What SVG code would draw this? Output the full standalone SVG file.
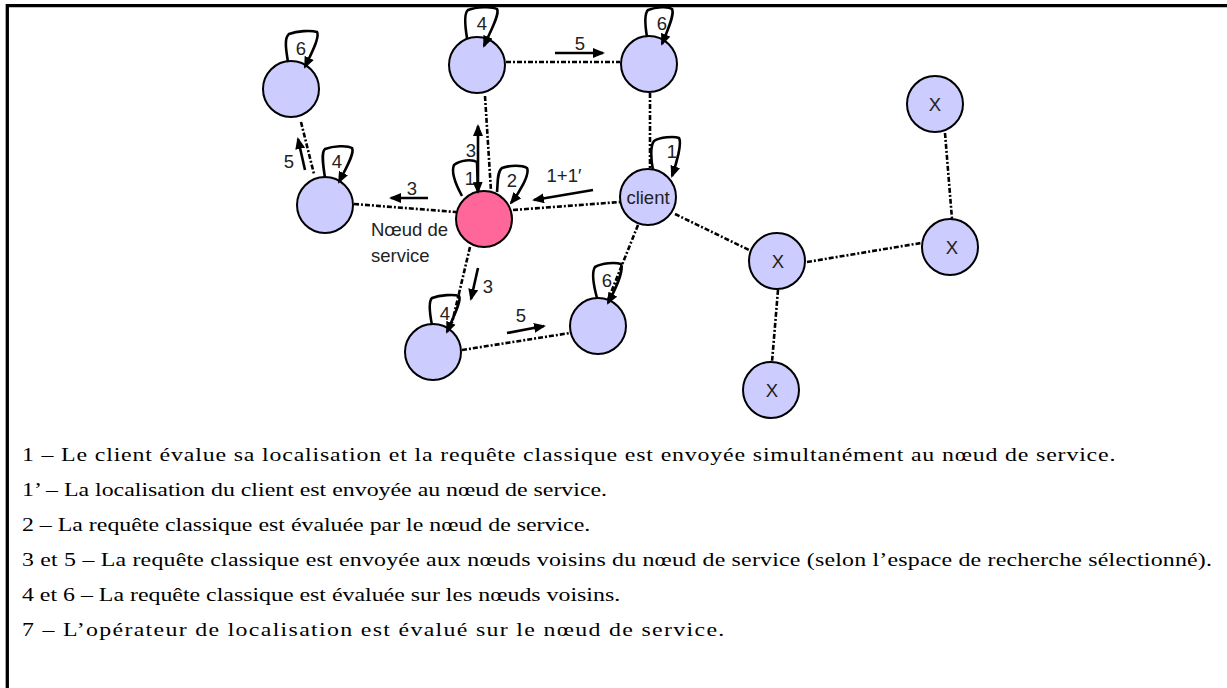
<svg xmlns="http://www.w3.org/2000/svg" width="1227" height="688" viewBox="0 0 1227 688">
<defs>
<marker id="ah" markerUnits="userSpaceOnUse" markerWidth="12" markerHeight="10" refX="10" refY="5" orient="auto" viewBox="0 0 12 10">
<path d="M0,0 L12,5 L0,10 z" fill="#000"/>
</marker>
</defs>
<style>
.frame{fill:none;stroke:#000;stroke-width:3.3}
.node{fill:#CCCCFF;stroke:#000;stroke-width:2}
.svc{fill:#FF6699;stroke:#000;stroke-width:2}
.conn{fill:none;stroke:#000;stroke-width:2.6;stroke-dasharray:5 2 2 2}
.loop{fill:none;stroke:#000;stroke-width:2.6;marker-end:url(#ah)}
.arr{fill:none;stroke:#000;stroke-width:2.6;marker-end:url(#ah)}
.lbl{font-family:"Liberation Sans",Arial,sans-serif;font-size:18.5px;fill:#222;text-anchor:middle}
.note{font-family:"Liberation Sans",Arial,sans-serif;font-size:18.5px;fill:#222}
.leg{font-family:"Liberation Serif","Times New Roman",serif;font-size:18.8px;fill:#000}
</style>
<path class="frame" d="M7.3,688 V5.7 H1227"/>
<g id="connectors">
<line class="conn" x1="301" y1="122" x2="314" y2="174"/>
<line class="conn" x1="354" y1="204" x2="456" y2="212"/>
<line class="conn" x1="485" y1="96" x2="491" y2="191"/>
<line class="conn" x1="506" y1="62" x2="620" y2="62"/>
<line class="conn" x1="650" y1="93" x2="650" y2="169"/>
<line class="conn" x1="513" y1="210" x2="620" y2="202"/>
<line class="conn" x1="638" y1="225" x2="608" y2="300"/>
<line class="conn" x1="470" y1="247" x2="452" y2="323"/>
<line class="conn" x1="462" y1="350" x2="570" y2="333"/>
<line class="conn" x1="675" y1="214" x2="749" y2="250"/>
<line class="conn" x1="807" y1="262" x2="921" y2="243"/>
<line class="conn" x1="945" y1="133" x2="952" y2="219"/>
<line class="conn" x1="778" y1="290" x2="772" y2="362"/>
<line class="arr" x1="555" y1="53" x2="603" y2="53"/>
<line class="arr" x1="593" y1="190" x2="534" y2="200"/>
<line class="arr" x1="428" y1="198" x2="391" y2="198"/>
<line class="arr" x1="478" y1="192" x2="478" y2="126"/>
<line class="arr" x1="478" y1="268" x2="471" y2="299"/>
<line class="arr" x1="507" y1="333" x2="544" y2="326"/>
<line class="arr" x1="305" y1="170" x2="298" y2="139"/>
<text class="lbl" x="580" y="50">5</text>
<text class="lbl" x="564" y="182">1+1′</text>
<text class="lbl" x="412" y="195">3</text>
<text class="lbl" x="471" y="157">3</text>
<text class="lbl" x="488" y="293">3</text>
<text class="lbl" x="521" y="322">5</text>
<text class="lbl" x="289" y="168">5</text>
</g>
<g id="n6a">
<circle class="node" cx="291" cy="89" r="28"/>
<path class="loop" d="M288,62 C286,50 284,38 289,34 C297,31 311,30 317,32 C320,37 312,52 305,67"/>
<text class="lbl" x="301" y="55">6</text>
</g>
<g id="n4a">
<circle class="node" cx="325" cy="205" r="28"/>
<path class="loop" d="M325,178 C323,165 321,152 325,149 C333,146 347,145 352,148 C355,153 346,168 339,182"/>
<text class="lbl" x="337" y="168">4</text>
</g>
<g id="n4b">
<circle class="node" cx="477" cy="65" r="28"/>
<path class="loop" d="M467,38 C465,26 464,13 468,10 C476,7 492,6 497,9 C500,14 491,30 484,46"/>
<text class="lbl" x="482" y="30">4</text>
</g>
<g id="n6b">
<circle class="node" cx="649" cy="64" r="28"/>
<path class="loop" d="M647,37 C645,25 644,14 648,10 C656,7 668,6 672,9 C675,14 668,29 662,44"/>
<text class="lbl" x="662" y="30">6</text>
</g>
<g id="service">
<circle class="svc" cx="484" cy="219" r="28"/>
<path class="loop" d="M462,196 C456,185 451,172 454,165 C460,160 472,159 477,162 L478,192"/>
<path class="loop" d="M497,192 C498,182 497,172 502,168 C510,165 522,165 527,168 C530,174 520,192 511,203"/>
<text class="lbl" x="470" y="185">1</text>
<text class="lbl" x="512" y="187">2</text>
<text class="note" x="371" y="236">Nœud de</text>
<text class="note" x="371" y="262">service</text>
</g>
<g id="client">
<circle class="node" cx="648" cy="197" r="28"/>
<path class="loop" d="M653,170 C651,160 650,146 654,141 C660,137 674,136 679,138 C682,143 677,162 672,176"/>
<text class="lbl" x="672" y="158">1</text>
<text class="lbl" x="648" y="204">client</text>
</g>
<g id="n4c">
<circle class="node" cx="433" cy="352" r="28"/>
<path class="loop" d="M432,325 C430,315 428,302 432,298 C440,295 454,294 459,296 C462,300 453,318 447,332"/>
<text class="lbl" x="445" y="320">4</text>
</g>
<g id="n6c">
<circle class="node" cx="598" cy="326" r="28"/>
<path class="loop" d="M597,298 C594,287 591,273 595,267 C602,263 615,262 621,264 C624,270 615,290 608,303"/>
<text class="lbl" x="607" y="287">6</text>
</g>
<g id="x1">
<circle class="node" cx="935" cy="104" r="28"/>
<text class="lbl" x="935" y="111">X</text>
</g>
<g id="x2">
<circle class="node" cx="950" cy="247" r="28"/>
<text class="lbl" x="952" y="254">X</text>
</g>
<g id="x3">
<circle class="node" cx="777" cy="261" r="28"/>
<text class="lbl" x="778" y="268">X</text>
</g>
<g id="x4">
<circle class="node" cx="771" cy="390" r="28"/>
<text class="lbl" x="772" y="397">X</text>
</g>
<g id="legend" transform="scale(1.27 1)">
<text class="leg" x="17.3" y="461" textLength="861" lengthAdjust="spacing">1 – Le client évalue sa localisation et la requête classique est envoyée simultanément au nœud de service.</text>
<text class="leg" x="17.3" y="496">1’ – La localisation du client est envoyée au nœud de service.</text>
<text class="leg" x="17.3" y="531">2 – La requête classique est évaluée par le nœud de service.</text>
<text class="leg" x="17.3" y="566" textLength="937" lengthAdjust="spacing">3 et 5 – La requête classique est envoyée aux nœuds voisins du nœud de service (selon l’espace de recherche sélectionné).</text>
<text class="leg" x="17.3" y="601">4 et 6 – La requête classique est évaluée sur les nœuds voisins.</text>
<text class="leg" x="17.3" y="636" textLength="553" lengthAdjust="spacing">7 – L’opérateur de localisation est évalué sur le nœud de service.</text>
</g>
</svg>
